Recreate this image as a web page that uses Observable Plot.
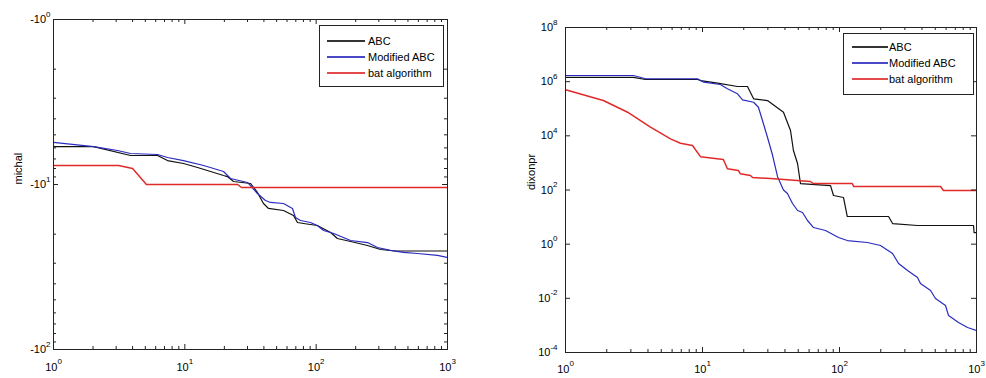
<!DOCTYPE html>
<html><head><meta charset="utf-8">
<script src="https://cdn.jsdelivr.net/npm/d3@7"></script>
<script src="https://cdn.jsdelivr.net/npm/@observablehq/plot@0.6"></script>
<style>
body{margin:0;background:#fff;font-family:"Liberation Sans",Arial,sans-serif;}
#wrap{position:relative;width:986px;height:378px;overflow:hidden;background:#fff}
.panel{position:absolute;top:0}
.legend{position:absolute;box-sizing:border-box;border:1px solid #222;background:#fff;font-size:11px;color:#000}
.legend .row{position:absolute;left:0;right:0;height:16px;line-height:16px;white-space:nowrap}
.legend .sw{position:absolute;top:7px;height:2px;opacity:0.85}
.legend .lb{position:absolute;top:0}
</style></head><body><div id="wrap"></div>
<script>
// ---------- data: michal (left panel) ----------
const abcMichalIt  = [1, 2.02, 3.86, 6.19, 7.38, 9.77, 12.5, 15.7, 19.7, 21.1, 23.5, 31.6, 35.7, 39.7, 43.4, 56.4, 67.2, 72.1, 80.1, 102, 129, 145, 183, 246, 309, 400, 1000];
const abcMichalVal = [-5.89, -5.89, -6.67, -6.67, -7.16, -7.46, -7.89, -8.34, -8.82, -8.95, -9.59, -9.86, -11.17, -13.04, -13.97, -14.38, -15.41, -17.0, -17.23, -17.72, -19.54, -21.25, -22.15, -23.43, -24.77, -25.3, -25.3];
const modMichalIt  = [1, 2.02, 3.07, 3.86, 6.19, 7.38, 9.77, 13.9, 19.7, 22.3, 30.0, 35.7, 41.1, 44.9, 56.4, 66.0, 69.6, 76.0, 90.5, 102, 114, 136, 183, 246, 293, 368, 462, 591, 839, 1000];
const modMichalVal = [-5.56, -5.89, -6.22, -6.49, -6.58, -6.86, -7.16, -7.67, -8.34, -9.20, -9.72, -11.34, -12.5, -12.85, -13.04, -13.97, -15.85, -16.53, -17.0, -17.72, -19.0, -19.82, -21.84, -22.48, -24.09, -25.1, -25.8, -26.2, -26.9, -27.7];
const batMichalIt  = [1, 3.13, 4.0, 5.1, 25.2, 27, 1000];
const batMichalVal = [-7.67, -7.67, -8.0, -10.0, -10.0, -10.43, -10.43];

// ---------- data: dixonpr (right panel) ----------
const abcDixonIt  = [1, 3.13, 3.84, 9.20, 9.67, 12.9, 18.0, 21.3, 23.6, 29.8, 39.0, 43.9, 46.1, 49.4, 51.9, 86, 90.4, 107, 114, 228, 244, 371, 951, 960, 1000];
const abcDixonVal = [1.43e6, 1.43e6, 1.20e6, 1.20e6, 1.10e6, 8.78e5, 6.63e5, 6.63e5, 2.33e5, 2.01e5, 7.45e4, 1.57e4, 2.87e3, 951, 173, 146, 62.5, 52.7, 10.5, 10.5, 5.78, 4.88, 4.88, 2.69, 2.69];
const modDixonIt  = [1, 3.13, 3.84, 9.20, 10.2, 13.5, 15.2, 18.0, 19.6, 23.6, 25.6, 27.4, 29.8, 32.4, 35.3, 39.0, 41.7, 45.4, 49.4, 53.7, 58.4, 64.6, 79, 98.4, 114, 160, 199, 244, 270, 314, 371, 390, 462, 502, 594, 625, 739, 860, 1000];
const modDixonVal = [1.69e6, 1.69e6, 1.28e6, 1.28e6, 9.55e5, 7.86e5, 5.45e5, 3.56e5, 2.14e5, 1.74e5, 1.14e5, 3.68e4, 8.89e3, 2.0e3, 310, 100, 74, 31.7, 17.5, 14.7, 7.47, 4.11, 3.19, 1.76, 1.36, 1.15, 0.89, 0.451, 0.193, 0.106, 0.0586, 0.0352, 0.0194, 0.00982, 0.00542, 0.00231, 0.00128, 0.000834, 0.000646];
const batDixonIt  = [1, 1.89, 2.84, 4.17, 5.84, 6.91, 8.45, 9.67, 14.2, 15.2, 18.3, 18.9, 22.4, 23.2, 31.4, 61.4, 64.6, 124, 127, 546, 574, 1000];
const batDixonVal = [5.0e5, 2.01e5, 7.45e4, 2.08e4, 7.76e3, 5.34e3, 4.40e3, 1.7e3, 1.34e3, 605, 524, 395, 343, 289, 265, 206, 173, 173, 134, 134, 95.6, 95.6];

// ---------- labels ----------
const seriesNames = ["ABC", "Modified ABC", "bat algorithm"];
const seriesColors = ["#111111", "#2a2abf", "#e02a2a"];
const seriesWidths = [1.2, 1.2, 1.5];
const xTicks = [1, 10, 100, 1000];
const michalTicks = [1, 10, 100];
const dixonTicks = [1e-4, 1e-2, 1, 1e2, 1e4, 1e6, 1e8];

const zip = (xs, ys) => xs.map((x, i) => ({it: x, v: ys[i]}));
const exp10 = d => Math.round(Math.log10(d));
const NS = "http://www.w3.org/2000/svg";

function minorOf(decades) {
  const out = [];
  for (const d of decades) for (let k = 2; k <= 9; k++) out.push(d * k);
  return out;
}

function supify(svg) {
  svg.querySelectorAll("text").forEach(t => {
    const s = t.textContent;
    if (!s.includes("^")) return;
    const [base, sup] = s.split("^");
    while (t.firstChild) t.removeChild(t.firstChild);
    const a = document.createElementNS(NS, "tspan");
    a.textContent = base;
    const b = document.createElementNS(NS, "tspan");
    b.textContent = sup;
    b.setAttribute("dy", "-6.5");
    b.setAttribute("font-size", "8px");
    t.append(a, b);
  });
}

function panel(cfg) {
  const H = 378;
  const pw = cfg.width - cfg.mL - cfg.mR;
  const ph = H - cfg.mT - cfg.mB;
  const st = {stroke: "#222", strokeWidth: 1};
  const xMinor = minorOf([1, 10, 100]);
  const marks = [
    ...cfg.series.map((s, i) => Plot.line(s, {x: "it", y: cfg.yAcc, stroke: seriesColors[i], strokeWidth: seriesWidths[i], clip: true})),
    // inward ticks on all four sides
    Plot.ruleX(xTicks, {x: d => d, insetTop: ph - 5, ...st}),
    Plot.ruleX(xTicks, {x: d => d, insetBottom: ph - 5, ...st}),
    Plot.ruleX(xMinor, {x: d => d, insetTop: ph - 3, ...st}),
    Plot.ruleX(xMinor, {x: d => d, insetBottom: ph - 3, ...st}),
    Plot.ruleY(cfg.yTicks, {y: d => d, insetRight: pw - 5, ...st}),
    Plot.ruleY(cfg.yTicks, {y: d => d, insetLeft: pw - 5, ...st}),
    Plot.ruleY(cfg.yMinor, {y: d => d, insetRight: pw - 3, ...st}),
    Plot.ruleY(cfg.yMinor, {y: d => d, insetLeft: pw - 3, ...st}),
    Plot.frame({stroke: "#222"}),
    Plot.axisX(xTicks, {anchor: "bottom", tickSize: 0, tickPadding: cfg.xPad, tickFormat: d => `10^${exp10(d)}`, label: null}),
    Plot.axisY(cfg.yTicks, {anchor: "left", tickSize: 0, tickPadding: cfg.yPad, tickFormat: cfg.yFmt, label: null}),
    Plot.text([cfg.ylabel], {frameAnchor: "left", rotate: -90, dx: cfg.titleDx, text: d => d, fill: "#000"})
  ];
  const svg = Plot.plot({
    width: cfg.width, height: H,
    marginLeft: cfg.mL, marginRight: cfg.mR, marginTop: cfg.mT, marginBottom: cfg.mB,
    x: {type: "log", domain: [1, 1000]},
    y: {type: "log", domain: cfg.yDomain, reverse: cfg.reverse},
    style: {fontSize: "11px", fontFamily: "'Liberation Sans', Arial, sans-serif", color: "#000", background: "transparent", overflow: "visible"},
    marks
  });
  supify(svg);
  const div = document.createElement("div");
  div.className = "panel";
  div.style.left = cfg.left + "px";
  div.appendChild(svg);
  return div;
}

function legend(box) {
  const L = document.createElement("div");
  L.className = "legend";
  Object.assign(L.style, {left: box.x + "px", top: box.y + "px", width: box.w + "px", height: box.h + "px"});
  seriesNames.forEach((name, i) => {
    const r = document.createElement("div");
    r.className = "row";
    r.style.top = (box.row0 + i * box.dy) + "px";
    const sw = document.createElement("div");
    sw.className = "sw";
    Object.assign(sw.style, {left: box.swL + "px", width: box.swW + "px", background: seriesColors[i]});
    const lb = document.createElement("div");
    lb.className = "lb";
    lb.style.left = box.txL + "px";
    lb.textContent = name;
    r.append(sw, lb);
    L.appendChild(r);
  });
  return L;
}

const wrap = document.getElementById("wrap");
wrap.appendChild(panel({
  left: 0, width: 470, mL: 53, mR: 23, mT: 19, mB: 29,
  series: [zip(abcMichalIt, abcMichalVal), zip(modMichalIt, modMichalVal), zip(batMichalIt, batMichalVal)],
  yAcc: d => -d.v, yDomain: [1, 100], reverse: true,
  yTicks: michalTicks, yMinor: minorOf([1, 10]),
  yFmt: d => `-10^${exp10(d)}`, xPad: 13.5, yPad: 3,
  ylabel: "michal", titleDx: -35
}));
wrap.appendChild(panel({
  left: 486, width: 500, mL: 79, mR: 10, mT: 27, mB: 26,
  series: [zip(abcDixonIt, abcDixonVal), zip(modDixonIt, modDixonVal), zip(batDixonIt, batDixonVal)],
  yAcc: "v", yDomain: [1e-4, 1e8], reverse: false,
  yTicks: dixonTicks, yMinor: [],
  yFmt: d => `10^${exp10(d)}`, xPad: 12.5, yPad: 8,
  ylabel: "dixonpr", titleDx: -34
}));
wrap.appendChild(legend({x: 319, y: 25, w: 125, h: 62, row0: 7, dy: 16, swL: 7, swW: 38, txL: 48}));
wrap.appendChild(legend({x: 843, y: 33, w: 131, h: 62, row0: 5, dy: 16, swL: 8, swW: 36, txL: 45}));
</script></body></html>
